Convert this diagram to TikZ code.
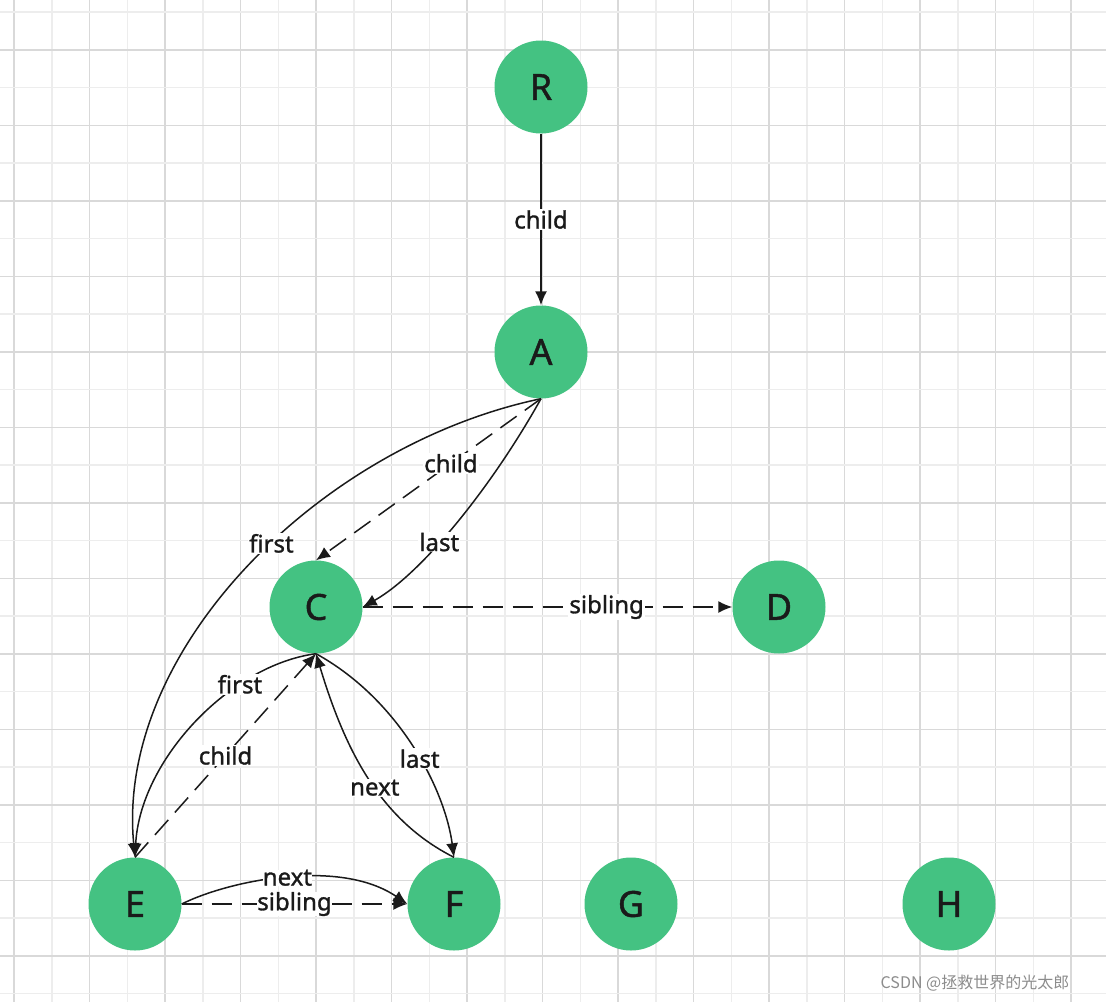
\documentclass[tikz,border=0pt]{standalone}
\usepackage{fontspec}
\setmainfont{Noto Sans}
\newfontfamily\semi{Noto Sans}[FakeBold=1.2]
\newfontfamily\cjk{Noto Sans CJK SC}
\usetikzlibrary{arrows.meta}
\definecolor{ng}{HTML}{44C282}
\definecolor{tx}{HTML}{1A1A1A}
\begin{document}
\begin{tikzpicture}[x=1pt,y=-1pt,
  nd/.style={circle,fill=ng,minimum size=93pt,inner sep=0pt,font=\semi\fontsize{36}{36}\selectfont,text=tx},
  ed/.style={draw=tx,line width=1.5pt,-{Latex[length=14pt,width=12pt]}},
  ds/.style={ed,dash pattern=on 20pt off 10pt},
  lb/.style={fill=white,inner sep=1pt,font=\semi\fontsize{24}{24}\selectfont,text=tx}]
\useasboundingbox (0,0) rectangle (1106,1002);
\fill[white] (0,0) rectangle (1106,1002);
\foreach \i in {0,...,29} {
  \pgfmathsetmacro\xx{14+37.75*\i}
  \pgfmathtruncatemacro\ev{mod(\i,2)}
  \ifnum\ev=0 \draw[color=black!15,line width=1.5pt] (\xx,0) -- (\xx,1002);
  \else \draw[color=black!7,line width=1.5pt] (\xx,0) -- (\xx,1002); \fi
}
\foreach \i in {0,...,27} {
  \pgfmathsetmacro\yy{12+37.75*\i}
  \pgfmathtruncatemacro\ev{mod(\i,2)}
  \ifnum\ev=1 \draw[color=black!15,line width=1.5pt] (0,\yy) -- (1106,\yy);
  \else \draw[color=black!7,line width=1.5pt] (0,\yy) -- (1106,\yy); \fi
}
\node[nd] (R) at (541,87) {R};
\node[nd] (A) at (541,352) {A};
\node[nd] (C) at (316,607) {C};
\node[nd] (D) at (779,607) {D};
\node[nd] (E) at (135,904) {E};
\node[nd] (F) at (454,904) {F};
\node[nd] (G) at (631,904) {G};
\node[nd] (H) at (949,904) {H};

\draw[ed] (R) -- node[lb] {child} (A);
\draw[ds] (A.south) -- node[lb,pos=0.4] {child} (C.north);
\draw[ed] (A.south) .. controls (490,490) and (420,575) .. node[lb,pos=0.58] {last} (C.east);
\draw[ed] (A.south) .. controls (320,445) and (115,650) .. node[lb,pos=0.45] {first} (E.north);
\draw[ds] (C.east) -- node[lb,pos=0.66] {sibling} (D.west);
\draw[ed] (C.south) .. controls (230,665) and (140,760) .. node[lb,pos=0.3] {first} (E.north);
\draw[ds] (E.north) -- node[lb,pos=0.5] {child} (C.south);
\draw[ed] (C.south) .. controls (400,700) and (445,790) .. node[lb,pos=0.55] {last} (F.north);
\draw[ed] (F.north) .. controls (380,820) and (345,750) .. node[lb,pos=0.45] {next} (C.south);
\draw[ed] (E.east) .. controls (230,880) and (340,858) .. node[lb,inner sep=0pt,pos=0.5] {next} (F.west);
\draw[ds] (E.east) -- node[lb,inner sep=0pt] {sibling} (F.west);
\node[text=black!45,font=\cjk\fontsize{16}{16}\selectfont] (wm) at (975,983) {CSDN @拯救世界的光太郎};
\end{tikzpicture}
\end{document}
